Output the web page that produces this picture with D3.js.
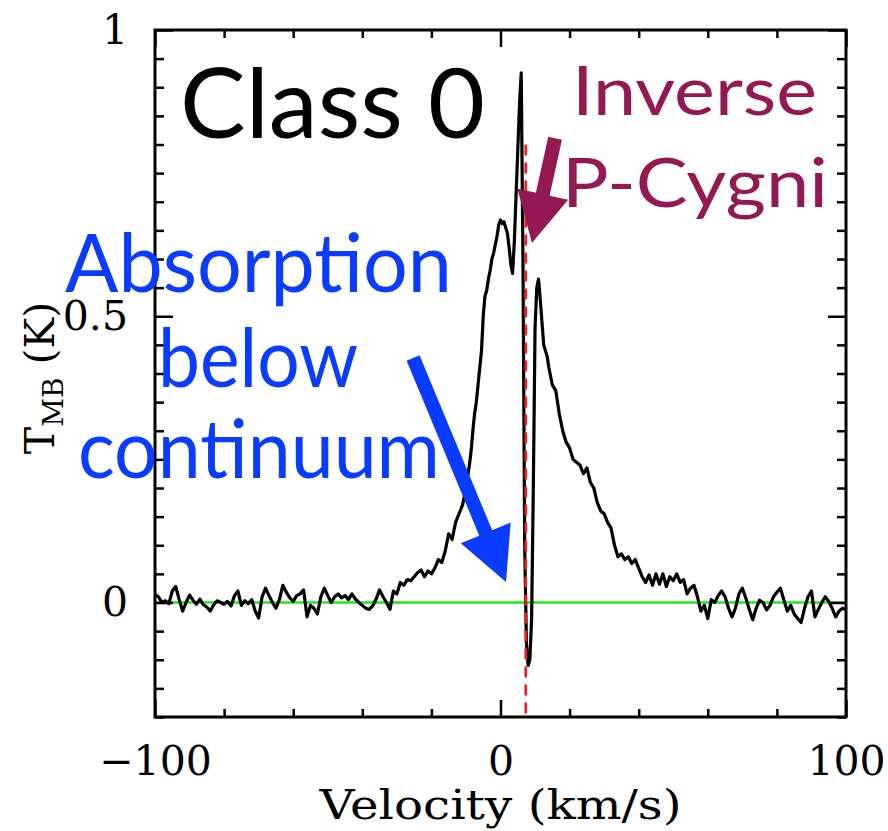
<!DOCTYPE html>
<html>
<head>
<meta charset="utf-8">
<script src="https://cdn.jsdelivr.net/npm/d3@7"></script>
<style>
  body { margin: 0; background: #fff; }
</style>
</head>
<body>
<div id="chart"></div>
<script>
// spectrum (km/s, K)
var velocity = [
  -100, -99, -98, -97, -96, -95, -94, -93, -92, -91, -90, -89, -88, -87, -86, -85, -84, -83, -82, -81,
  -80, -79, -78, -77, -76, -75, -74, -73, -72, -71, -70, -69, -68, -67, -66, -65, -64, -63, -62, -61,
  -60, -59, -58, -57, -56, -55, -54, -53, -52, -51, -50, -49, -48, -47, -46, -45, -44, -43, -42, -41,
  -40, -39, -38, -37, -36, -35, -34, -33, -32, -31, -30, -29, -28, -27, -26, -25, -24, -23, -22, -21,
  -20, -19, -18, -17, -16, -15, -14, -13, -12, -11,
  -10, -9.5, -9, -8.5, -8, -7.5, -7, -6.5, -6, -5.5, -5, -4.5, -4, -3.5, -3, -2.5, -2, -1.5, -1, -0.5,
  0, 0.5, 1, 1.5, 2, 2.5, 3, 3.5, 4, 4.5, 5, 5.5, 6, 6.5, 7, 7.5, 8, 8.5, 9, 9.5,
  10, 10.5, 11, 11.5, 12, 12.5, 13, 13.5, 14,
  15, 16, 17, 18, 19, 20, 21, 22, 23, 24, 25, 26, 27, 28, 29, 30, 31, 32, 33, 34,
  35, 36, 37, 38, 39, 40, 41, 42, 43, 44, 45, 46, 47, 48, 49, 50, 51, 52, 53, 54,
  55, 56, 57, 58, 59, 60, 61, 62, 63, 64, 65, 66, 67, 68, 69, 70, 71, 72, 73, 74,
  75, 76, 77, 78, 79, 80, 81, 82, 83, 84, 85, 86, 87, 88, 89, 90, 91, 92, 93, 94,
  95, 96, 97, 98, 99, 100
];
var tmb = [
  0.014, 0.01, 0.0, 0.003, -0.002, 0.02, 0.028, 0.005, -0.015, 0.0, 0.013, 0.004, -0.003, 0.006, -0.004, -0.008, -0.015, -0.004, 0.003, 0.0,
  -0.003, 0.002, -0.006, 0.012, 0.02, -0.005, 0.003, -0.002, 0.005, -0.015, -0.027, 0.01, 0.025, 0.012, 0.0, -0.01, 0.005, 0.03, 0.018, 0.008,
  0.002, 0.012, 0.015, 0.022, -0.025, -0.005, -0.01, -0.02, 0.01, 0.025, 0.012, 0.0, 0.01, 0.015, 0.008, 0.012, 0.005, 0.015, 0.006, 0.0,
  -0.005, -0.01, -0.012, -0.006, 0.006, 0.022, 0.01, 0.0, -0.012, 0.02, 0.015, 0.035, 0.03, 0.04, 0.038, 0.045, 0.052, 0.057, 0.045, 0.055,
  0.05, 0.06, 0.075, 0.07, 0.09, 0.12, 0.11, 0.14, 0.155, 0.17,
  0.2, 0.22, 0.24, 0.265, 0.3, 0.33, 0.35, 0.38, 0.41, 0.44, 0.5, 0.535, 0.545, 0.565, 0.58, 0.6, 0.61, 0.625, 0.64, 0.66,
  0.668, 0.662, 0.665, 0.655, 0.645, 0.62, 0.59, 0.575, 0.63, 0.71, 0.79, 0.87, 0.925, 0.6, 0.1, -0.07, -0.11, -0.1, -0.03, 0.2,
  0.48, 0.55, 0.565, 0.53, 0.49, 0.45, 0.44, 0.43, 0.41,
  0.38, 0.37, 0.33, 0.3, 0.28, 0.27, 0.25, 0.245, 0.24, 0.225, 0.235, 0.21, 0.2, 0.175, 0.16, 0.155, 0.14, 0.13, 0.1, 0.08,
  0.085, 0.075, 0.08, 0.068, 0.075, 0.06, 0.045, 0.035, 0.048, 0.03, 0.05, 0.032, 0.05, 0.028, 0.045, 0.038, 0.05, 0.035, 0.04, 0.015,
  0.025, 0.03, 0.01, -0.015, -0.005, -0.028, 0.005, 0.0, 0.012, 0.02, 0.01, -0.01, -0.025, -0.01, 0.015, 0.025, 0.008, -0.012, -0.03, -0.01,
  0.004, 0.0, -0.013, -0.005, 0.01, 0.018, 0.025, 0.005, -0.015, -0.005, -0.02, -0.028, -0.035, -0.01, 0.01, 0.02, -0.025, -0.012, 0.0, 0.01,
  0.002, -0.01, -0.025, -0.015, -0.01, -0.012
];

var xMajor = [-100, 0, 100];
var yMajor = [0, 0.5, 1];
var vSystemic = 7.3;   // red dashed line

var svgWidth = 888,
    svgHeight = 831,
    plot = {left: 155, right: 846, top: 30, bottom: 717};

var svg = d3.select("#chart").append("svg")
    .attr("width", svgWidth)
    .attr("height", svgHeight)
    .style("background", "#fff");

var xScale = d3.scaleLinear().domain([-100, 100]).range([plot.left, plot.right]);
var yScale = d3.scaleLinear().domain([-0.2, 1]).range([plot.bottom, plot.top]);

var data = velocity.map(function(v, i) { return {v: v, t: tmb[i]}; });

var axisFont = "'DejaVu Serif', serif";
var annoFont = "Lato, 'Open Sans', sans-serif";

// clip for the spectrum
svg.append("clipPath").attr("id", "clip")
  .append("rect")
    .attr("x", plot.left).attr("y", plot.top)
    .attr("width", plot.right - plot.left).attr("height", plot.bottom - plot.top);

// continuum
svg.append("line")
    .attr("x1", xScale(-100)).attr("x2", xScale(100))
    .attr("y1", yScale(0)).attr("y2", yScale(0))
    .attr("stroke", "#1eea1e")
    .attr("stroke-width", 2.4);

// spectrum
var line = d3.line()
    .x(function(d) { return xScale(d.v); })
    .y(function(d) { return yScale(d.t); });

svg.append("path")
    .datum(data)
    .attr("clip-path", "url(#clip)")
    .attr("d", line)
    .attr("fill", "none")
    .attr("stroke", "#000")
    .attr("stroke-width", 3.2)
    .attr("stroke-linejoin", "round");

// systemic velocity
svg.append("line")
    .attr("x1", xScale(vSystemic)).attr("x2", xScale(vSystemic))
    .attr("y1", yScale(0.8)).attr("y2", yScale(-0.2))
    .attr("stroke", "#ff1a1a")
    .attr("stroke-width", 2.6)
    .attr("stroke-dasharray", "11,7");

// axes: ticks point inward on all four sides
var xMinor = d3.range(-100, 101, 20).filter(function(d) { return xMajor.indexOf(d) < 0; });
var yMinor = d3.range(-0.2, 1.001, 0.05).filter(function(d) {
    return yMajor.every(function(m) { return Math.abs(m - d) > 1e-6; });
});

function styleAxis(g) {
    g.select(".domain").remove();
    g.selectAll("line").attr("stroke", "#000").attr("stroke-width", 2.5);
    g.attr("font-family", axisFont).attr("font-size", 41);
    g.selectAll("text").attr("fill", "#000");
}

svg.append("g").attr("transform", `translate(0, ${plot.bottom})`)
    .call(d3.axisBottom(xScale).tickValues(xMajor).tickSizeInner(-17).tickSizeOuter(0).tickPadding(29).tickFormat(d3.format("d")))
    .call(styleAxis);
svg.append("g").attr("transform", `translate(0, ${plot.bottom})`)
    .call(d3.axisBottom(xScale).tickValues(xMinor).tickSize(-8).tickFormat(""))
    .call(styleAxis);
svg.append("g").attr("transform", `translate(0, ${plot.top})`)
    .call(d3.axisTop(xScale).tickValues(xMajor).tickSize(-17).tickFormat(""))
    .call(styleAxis);
svg.append("g").attr("transform", `translate(0, ${plot.top})`)
    .call(d3.axisTop(xScale).tickValues(xMinor).tickSize(-8).tickFormat(""))
    .call(styleAxis);

svg.append("g").attr("transform", `translate(${plot.left}, 0)`)
    .call(d3.axisLeft(yScale).tickValues(yMajor).tickSizeInner(-18).tickSizeOuter(0).tickPadding(27).tickFormat(d3.format("")))
    .call(styleAxis);
svg.append("g").attr("transform", `translate(${plot.left}, 0)`)
    .call(d3.axisLeft(yScale).tickValues(yMinor).tickSize(-9).tickFormat(""))
    .call(styleAxis);
svg.append("g").attr("transform", `translate(${plot.right}, 0)`)
    .call(d3.axisRight(yScale).tickValues(yMajor).tickSize(-18).tickFormat(""))
    .call(styleAxis);
svg.append("g").attr("transform", `translate(${plot.right}, 0)`)
    .call(d3.axisRight(yScale).tickValues(yMinor).tickSize(-9).tickFormat(""))
    .call(styleAxis);

// frame
svg.append("rect")
    .attr("x", plot.left).attr("y", plot.top)
    .attr("width", plot.right - plot.left).attr("height", plot.bottom - plot.top)
    .attr("fill", "none")
    .attr("stroke", "#000")
    .attr("stroke-width", 3);

// axis titles
svg.append("text")
    .attr("x", xScale(0)).attr("y", 819)
    .attr("text-anchor", "middle")
    .attr("font-family", axisFont).attr("font-size", 41)
    .attr("textLength", 362)
    .attr("lengthAdjust", "spacingAndGlyphs")
    .text("Velocity (km/s)");

var yTitle = svg.append("text")
    .attr("transform", "translate(54, 378) rotate(-90)")
    .attr("text-anchor", "middle")
    .attr("font-family", axisFont).attr("font-size", 41);
yTitle.append("tspan").text("T");
yTitle.append("tspan").attr("font-size", 28).attr("dy", 9).text("MB");
yTitle.append("tspan").attr("dy", -9).text(" (K)");

// arrows (drawn as polygons between two data-space points)
function arrow(from, to, shaft, headLen, headWid, color) {
    var x0 = xScale(from[0]), y0 = yScale(from[1]),
        x1 = xScale(to[0]), y1 = yScale(to[1]);
    var len = Math.hypot(x1 - x0, y1 - y0),
        ux = (x1 - x0) / len, uy = (y1 - y0) / len,
        nx = -uy, ny = ux,
        bx = x1 - ux * headLen, by = y1 - uy * headLen;
    var pts = [
        [x0 + nx * shaft / 2, y0 + ny * shaft / 2],
        [bx + nx * shaft / 2, by + ny * shaft / 2],
        [bx + nx * headWid / 2, by + ny * headWid / 2],
        [x1, y1],
        [bx - nx * headWid / 2, by - ny * headWid / 2],
        [bx - nx * shaft / 2, by - ny * shaft / 2],
        [x0 - nx * shaft / 2, y0 - ny * shaft / 2]
    ];
    svg.append("polygon")
        .attr("points", pts.map(function(p) { return p.join(","); }).join(" "))
        .attr("fill", color);
}

var blue = "#0a3cff", plum = "#941851";
arrow([-25.3, 0.427], [1.6, 0.036], 14, 53, 54, blue);
arrow([15.8, 0.811], [9.1, 0.628], 14, 50, 52, plum);

// annotations
function label(txt, x, y, size, width, color) {
    svg.append("text")
        .attr("x", x).attr("y", y)
        .attr("font-family", annoFont)
        .attr("font-size", size)
        .attr("textLength", width)
        .attr("lengthAdjust", "spacingAndGlyphs")
        .attr("fill", color)
        .text(txt);
}

label("Class 0", 180, 138, 97, 305, "#000");
label("Inverse", 572, 115, 68, 245, plum);
label("P-Cygni", 562, 207, 68, 266, plum);
label("Absorption", 65, 292, 82, 387, blue);
label("below", 158, 387, 82, 200, blue);
label("continuum", 78, 478, 82, 362, blue);
</script>
</body>
</html>
